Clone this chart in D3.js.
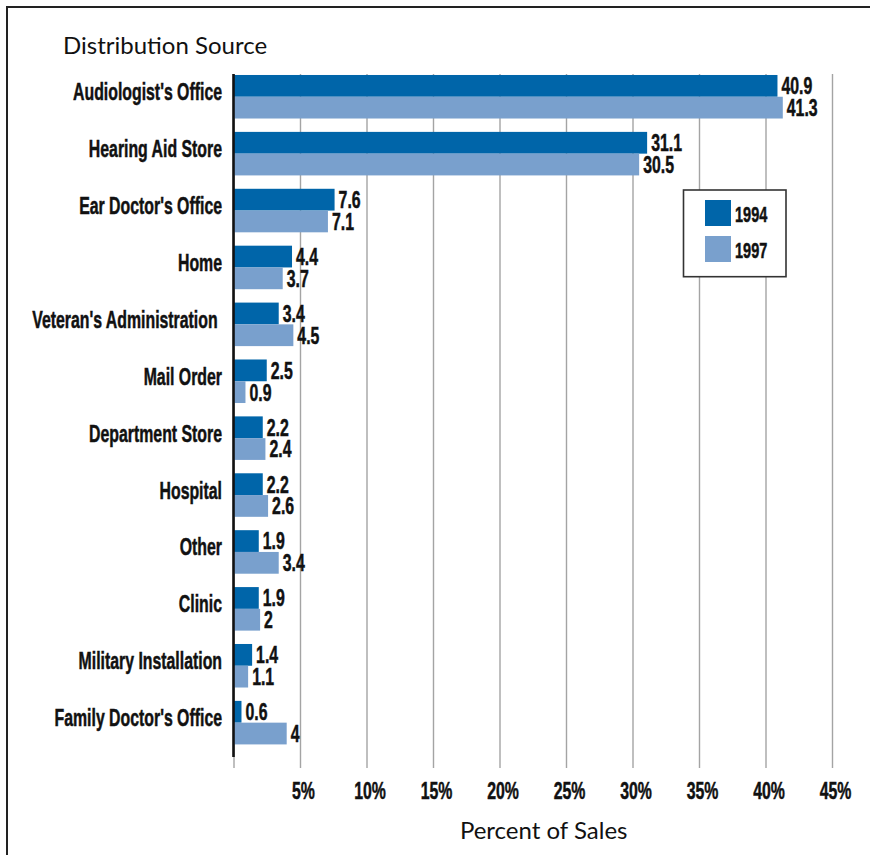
<!DOCTYPE html>
<html>
<head>
<meta charset="utf-8">
<script src="https://cdn.jsdelivr.net/npm/d3@7"></script>
<style>
  body { margin: 0; background: #fff; }
  svg { display: block; }
  .cond { font-family: "Liberation Sans", Arial, sans-serif; font-weight: bold; fill: #111;
          stroke: #111; stroke-width: 0.5; white-space: pre; }
  .title { font-family: "Lato", "Open Sans", sans-serif; fill: #111; }
</style>
</head>
<body>
<script>
// Hearing aid sales by distribution source, 1994 vs 1997 (percent of sales)
const categories = [
  "Audiologist's Office", "Hearing Aid Store", "Ear Doctor's Office", "Home",
  "Veteran's Administration ", "Mail Order", "Department Store", "Hospital",
  "Other", "Clinic", "Military Installation", "Family Doctor's Office"
];
const years = ["1994", "1997"];
const sales1994 = [40.9, 31.1, 7.6, 4.4, 3.4, 2.5, 2.2, 2.2, 1.9, 1.9, 1.4, 0.6];
const sales1997 = [41.3, 30.5, 7.1, 3.7, 4.5, 0.9, 2.4, 2.6, 3.4, 2, 1.1, 4];
const tickValues = [0, 5, 10, 15, 20, 25, 30, 35, 40, 45];
const yTitle = "Distribution Source";
const xTitle = "Percent of Sales";

const W = 870, H = 855;
const SQUEEZE = 0.66; // horizontal squeeze for the condensed label face

const seriesByYear = { "1994": sales1994, "1997": sales1997 };
const rows = categories.map((c, i) => ({
  category: c,
  values: years.map(yr => ({ year: yr, value: seriesByYear[yr][i] }))
}));

const svg = d3.select("body").append("svg")
  .attr("width", W).attr("height", H);

// frame: top and left rules
svg.append("path")
  .attr("d", `M7,${H} V7 H${W}`)
  .attr("fill", "none").attr("stroke", "#222").attr("stroke-width", 2);

const x = d3.scaleLinear().domain([0, 45]).range([233.5, 832]);
const y = d3.scaleBand().domain(categories).range([68.3, 751.1])
  .paddingInner(0.235).paddingOuter(0.1175);
const ySub = d3.scaleBand().domain(years).range([0, y.bandwidth()]);
const color = d3.scaleOrdinal().domain(years).range(["#0065a9", "#79a0cd"]);

const gridTop = 74, gridBottom = 768;

// gridlines + tick labels
const xAxis = d3.axisBottom(x)
  .tickValues(tickValues)
  .tickSize(-(gridBottom - gridTop))
  .tickFormat(d => d === 0 ? "" : d + "%");

const gx = svg.append("g")
  .attr("transform", `translate(0,${gridBottom})`)
  .call(xAxis);
gx.select(".domain").remove();
gx.selectAll(".tick line").attr("stroke", "#a4a4a4").attr("stroke-width", 1.4);
gx.selectAll(".tick text")
  .attr("class", "cond")
  .attr("x", null).attr("y", null).attr("dy", null)
  .attr("text-anchor", "middle")
  .attr("font-size", 24)
  .attr("transform", `translate(3,31) scale(${SQUEEZE},1)`);

// bars
const groups = svg.append("g").selectAll("g")
  .data(rows).join("g")
  .attr("transform", d => `translate(0,${y(d.category)})`);

groups.selectAll("rect")
  .data(d => d.values).join("rect")
  .attr("x", x(0))
  .attr("y", d => ySub(d.year))
  .attr("width", d => x(d.value) - x(0))
  .attr("height", ySub.bandwidth())
  .attr("fill", d => color(d.year));

// value labels
groups.selectAll("text.val")
  .data(d => d.values).join("text")
  .attr("class", "cond val")
  .attr("font-size", 24)
  .attr("transform", d =>
    `translate(${x(d.value) + 4},${ySub(d.year) + ySub.bandwidth() - 2.5}) scale(${SQUEEZE},1)`)
  .text(d => d.value);

// vertical axis rule
svg.append("line")
  .attr("x1", x(0)).attr("x2", x(0))
  .attr("y1", gridTop).attr("y2", 757)
  .attr("stroke", "#111").attr("stroke-width", 2.6);

// category labels
svg.append("g").selectAll("text")
  .data(categories).join("text")
  .attr("class", "cond")
  .attr("font-size", 24)
  .attr("text-anchor", "end")
  .attr("transform", d =>
    `translate(222,${y(d) + y.bandwidth() / 2 + 3.5}) scale(${SQUEEZE},1)`)
  .text(d => d);

// axis titles
svg.append("text").attr("class", "title")
  .attr("x", 63).attr("y", 54).attr("font-size", 24)
  .text(yTitle);
svg.append("text").attr("class", "title")
  .attr("x", 543.7).attr("y", 839).attr("font-size", 24)
  .attr("text-anchor", "middle")
  .text(xTitle);

// legend
const legend = svg.append("g").attr("transform", "translate(683.5,190)");
legend.append("rect")
  .attr("width", 102.5).attr("height", 86.7)
  .attr("fill", "#fff").attr("stroke", "#333").attr("stroke-width", 1.6);
const item = legend.selectAll("g.item")
  .data(years).join("g")
  .attr("class", "item")
  .attr("transform", (d, i) => `translate(21.5,${10 + i * 36})`);
item.append("rect")
  .attr("width", 26).attr("height", 26)
  .attr("fill", d => color(d));
item.append("text")
  .attr("class", "cond")
  .attr("font-size", 22)
  .attr("transform", `translate(30,21.7) scale(${SQUEEZE},1)`)
  .text(d => d);
</script>
</body>
</html>
